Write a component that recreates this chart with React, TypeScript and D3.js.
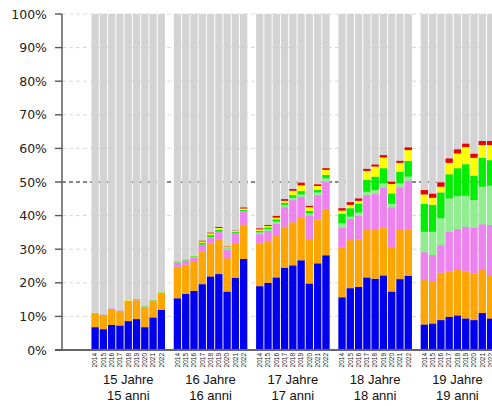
import React from 'react';
import * as d3 from 'd3';

// years shown under every bar, one age group = 9 bars
const years = ['2014', '2015', '2016', '2017', '2018', '2019', '2020', '2021', '2022'];
const groupsDe = ['15 Jahre', '16 Jahre', '17 Jahre', '18 Jahre', '19 Jahre'];
const groupsIt = ['15 anni', '16 anni', '17 anni', '18 anni', '19 anni'];
const yTicks = [0, 10, 20, 30, 40, 50, 60, 70, 80, 90, 100];

// stacked categories, bottom to top
const layerKeys = ['l1', 'l2', 'l3', 'l4', 'l5', 'l6', 'l7'];
const layerColors = ['#0000ee', '#ffa500', '#ee82ee', '#90ee90', '#00ee00', '#ffff00', '#ee0000'];

// shares in % per year (rows) and category (columns)
const age15 = [
  [6.8, 4.1, 0.1, 0, 0, 0, 0],
  [6.2, 4.2, 0.1, 0, 0, 0, 0],
  [7.5, 4.7, 0.1, 0, 0, 0, 0],
  [7.3, 4.3, 0.1, 0, 0, 0, 0],
  [8.6, 5.8, 0.1, 0, 0.1, 0.2, 0],
  [9.2, 5.6, 0.1, 0, 0.2, 0.1, 0],
  [6.8, 5.9, 0.1, 0, 0.1, 0, 0],
  [9.7, 4.9, 0.1, 0, 0.1, 0.1, 0],
  [11.9, 5.0, 0.1, 0, 0.1, 0.1, 0],
];
const age16 = [
  [15.4, 9.4, 1.2, 0.1, 0.2, 0.1, 0],
  [16.7, 8.7, 1.2, 0.1, 0.2, 0.1, 0],
  [17.6, 8.9, 1.1, 0.1, 0.2, 0.1, 0],
  [19.6, 9.7, 2.0, 0.1, 0.5, 0.4, 0.2],
  [21.9, 9.8, 1.8, 0.1, 0.6, 0.5, 0.2],
  [22.6, 10.3, 2.2, 0.1, 0.6, 0.5, 0.3],
  [17.4, 9.9, 2.5, 0.5, 0.2, 0.3, 0.1],
  [21.5, 10.3, 2.8, 0.1, 0.4, 0.3, 0.1],
  [27.1, 10.2, 3.9, 0.1, 0.4, 0.4, 0.3],
];
const age17 = [
  [19.0, 12.7, 2.8, 0.5, 0.5, 0.4, 0.3],
  [20.0, 12.5, 3.0, 0.5, 0.5, 0.4, 0.3],
  [21.6, 12.3, 3.6, 0.7, 0.7, 0.5, 0.5],
  [24.5, 12.2, 5.8, 0.7, 0.6, 0.6, 0.5],
  [25.2, 12.8, 6.6, 0.7, 0.8, 1.3, 0.5],
  [26.7, 12.8, 6.1, 0.7, 1.0, 1.7, 0.8],
  [19.8, 13.3, 7.0, 0.6, 0.7, 1.1, 0.4],
  [25.8, 13.1, 7.2, 0.8, 0.7, 1.2, 0.5],
  [28.2, 13.8, 8.1, 1.0, 1.0, 1.5, 0.5],
];
const age18 = [
  [15.7, 14.8, 6.0, 1.2, 2.8, 1.0, 0.7],
  [18.4, 14.3, 6.3, 0.7, 2.5, 1.0, 0.8],
  [18.8, 14.1, 7.1, 0.9, 2.7, 0.8, 0.7],
  [21.6, 14.1, 10.4, 1.0, 3.5, 2.7, 0.6],
  [21.2, 14.5, 10.7, 1.2, 4.0, 3.0, 0.6],
  [22.2, 14.3, 11.9, 1.2, 4.5, 3.2, 0.7],
  [17.4, 13.2, 11.9, 1.0, 3.1, 2.8, 0.7],
  [21.1, 14.6, 12.7, 1.2, 3.5, 2.6, 0.6],
  [22.1, 13.8, 14.5, 1.2, 4.7, 3.2, 0.8],
];
const age19 = [
  [7.6, 13.2, 8.3, 6.1, 8.3, 2.8, 1.3],
  [7.9, 12.6, 7.8, 6.9, 8.0, 2.1, 1.2],
  [8.9, 14.1, 8.2, 8.0, 7.7, 1.7, 1.3],
  [9.9, 13.4, 11.9, 9.9, 7.2, 3.4, 1.3],
  [10.3, 13.8, 11.9, 9.8, 8.3, 4.4, 1.2],
  [9.4, 13.9, 13.4, 9.2, 9.4, 5.1, 1.0],
  [8.9, 13.9, 13.6, 8.2, 7.3, 5.3, 1.2],
  [11.0, 12.8, 13.6, 11.2, 8.6, 3.8, 1.2],
  [9.4, 12.9, 14.9, 11.7, 7.6, 4.5, 1.2],
];
const groupValues = [age15, age16, age17, age18, age19];

const W = 492;
const H = 406;
const axisX = 62;

const App: React.FC = () => {
  const y = d3.scaleLinear().domain([0, 100]).range([350, 14]);

  const outer = d3.scaleBand<string>()
    .domain(groupsDe)
    .range([91.5, 494.2])
    .paddingInner(0.107)
    .paddingOuter(0);

  const inner = d3.scaleBand<string>()
    .domain(years)
    .range([0, outer.bandwidth()])
    .paddingInner(0.12)
    .paddingOuter(0);

  const stack = d3.stack<Record<string, number>>().keys(layerKeys);

  return (
    <svg width={W} height={H} style={{ position: 'absolute', left: 0, top: 0, background: '#fff' }}>
      {/* grid lines, 50% is the dark one */}
      {yTicks.filter(t => t > 0).map(t => (
        <line key={'g' + t} x1={axisX} x2={W} y1={y(t)} y2={y(t)}
          stroke={t === 50 ? '#111' : '#d8d8d8'}
          strokeWidth={t === 50 ? 1.2 : 1}
          strokeDasharray="4,3" />
      ))}

      {groupsDe.map((g, gi) => {
        const rows = groupValues[gi].map(r => {
          const o: Record<string, number> = {};
          layerKeys.forEach((k, i) => { o[k] = r[i]; });
          return o;
        });
        const series = stack(rows);
        const gx = outer(g)!;
        return (
          <g key={g} transform={`translate(${gx},0)`}>
            {years.map(yr => (
              <rect key={'bg' + yr} x={inner(yr)} y={y(100)} width={inner.bandwidth()}
                height={y(0) - y(100)} fill="#d3d3d3" />
            ))}
            {series.map((s, si) => s.map((d, i) => (
              <rect key={si + '-' + i} x={inner(years[i])} y={y(d[1])}
                width={inner.bandwidth()} height={Math.max(0, y(d[0]) - y(d[1]))}
                fill={layerColors[si]} />
            )))}
            {years.map(yr => (
              <text key={'t' + yr} fontFamily="Liberation Sans, Arial, sans-serif" fontSize={6.5}
                fill="#222" textAnchor="end"
                transform={`translate(${inner(yr)! + inner.bandwidth() / 2 + 2.3},353) rotate(-90)`}>
                {yr}
              </text>
            ))}
            <text x={outer.bandwidth() / 2} y={384} textAnchor="middle"
              fontFamily="Liberation Sans, Arial, sans-serif" fontSize={13} fill="#111">{g}</text>
            <text x={outer.bandwidth() / 2} y={400} textAnchor="middle"
              fontFamily="Liberation Sans, Arial, sans-serif" fontSize={13} fill="#111">{groupsIt[gi]}</text>
          </g>
        );
      })}

      {/* axes */}
      <line x1={axisX} x2={axisX} y1={y(100)} y2={y(0)} stroke="#666" strokeWidth={1.6} />
      <line x1={55} x2={W} y1={y(0)} y2={y(0)} stroke="#666" strokeWidth={2} />
      {yTicks.map(t => (
        <g key={'yt' + t}>
          <line x1={55} x2={axisX} y1={y(t)} y2={y(t)} stroke="#555" strokeWidth={1.4} />
          <text x={47} y={y(t)} dy="0.36em" textAnchor="end"
            fontFamily="DejaVu Sans, sans-serif" fontSize={12.5} fill="#222">{t}%</text>
        </g>
      ))}
    </svg>
  );
};

export default App;
